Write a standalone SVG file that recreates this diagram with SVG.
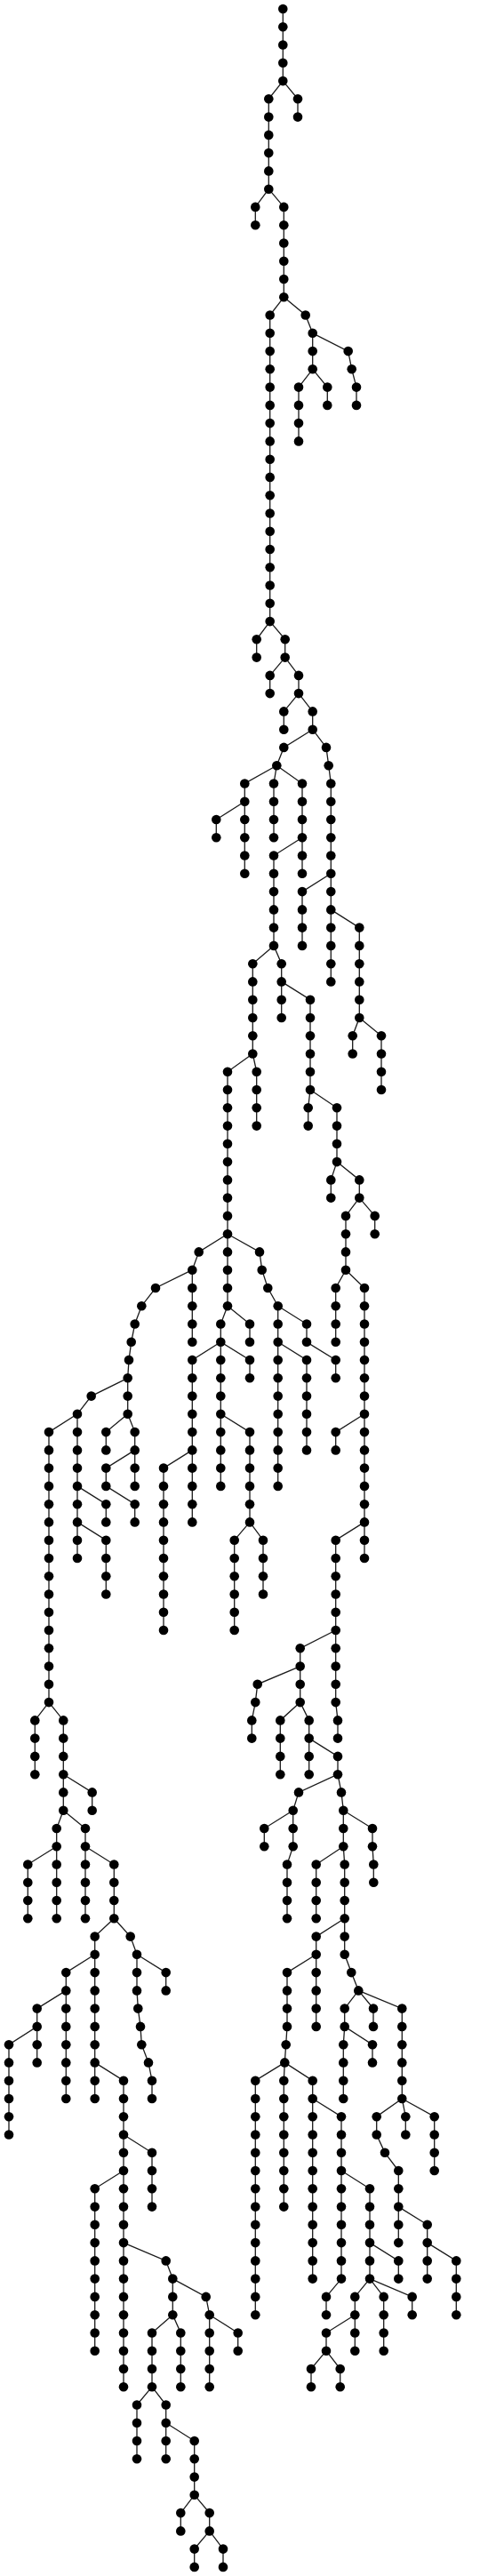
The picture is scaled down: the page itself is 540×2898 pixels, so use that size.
<svg xmlns="http://www.w3.org/2000/svg" width="540" height="2898" viewBox="0 0 540 2898">
<style>
.bg{fill:#fff}
#connectors path{fill:none;stroke:#1a1a1a;stroke-width:1.3}
#nodes circle{fill:#000}
</style>
<rect class="bg" x="0" y="0" width="540" height="2898"/>
<g id="connectors">
<path d="M318.3 10V91.1"/>
<path d="M318.3 91.1L302.3 111.3V212.7"/>
<path d="M318.3 91.1L335 111.3V131.6"/>
<path d="M302.3 212.7L287.3 232.9V253.2"/>
<path d="M302.3 212.7L319.3 232.9V334.3"/>
<path d="M319.3 334.3L303.7 354.5V699.1"/>
<path d="M319.3 334.3L343.7 354.5L351.7 374.8"/>
<path d="M351.7 374.8V415.3"/>
<path d="M351.7 374.8L391.7 395.1L395.7 415.3L401 435.6V455.9"/>
<path d="M351.7 415.3L336 435.6V496.4"/>
<path d="M351.7 415.3L368.3 435.6V455.9"/>
<path d="M303.7 699.1L288.7 719.3V739.6"/>
<path d="M303.7 699.1L320.7 719.3V739.6"/>
<path d="M320.7 739.6L303.7 759.9V780.1"/>
<path d="M320.7 739.6L336 759.9V780.1"/>
<path d="M336 780.1L319.3 800.4V820.7"/>
<path d="M336 780.1L351.7 800.4V820.7"/>
<path d="M351.7 820.7L319.3 840.9L311.3 861.2"/>
<path d="M351.7 820.7L367 840.9L369.7 861.2L372.3 881.5V982.8"/>
<path d="M311.3 861.2L275.3 881.5V901.7"/>
<path d="M311.3 861.2L308 881.5V942.3"/>
<path d="M311.3 861.2L340 881.5V942.3"/>
<path d="M275.3 901.7L243.3 922V942.3"/>
<path d="M275.3 901.7V982.8"/>
<path d="M340 942.3L308 962.5V1063.9"/>
<path d="M340 942.3V982.8"/>
<path d="M372.3 982.8L340 1003.1V1063.9"/>
<path d="M372.3 982.8V1023.4"/>
<path d="M372.3 1023.4V1104.4"/>
<path d="M372.3 1023.4L404.3 1043.6V1145"/>
<path d="M404.3 1145L396.7 1165.2V1185.5"/>
<path d="M404.3 1145L429 1165.2V1226"/>
<path d="M308 1063.9L284.3 1084.2V1185.5"/>
<path d="M308 1063.9L316.7 1084.2V1104.4"/>
<path d="M316.7 1104.4V1145"/>
<path d="M316.7 1104.4L349 1124.7V1226"/>
<path d="M284.3 1185.5L256 1205.8V1388.2"/>
<path d="M284.3 1185.5L288.7 1205.8V1266.6"/>
<path d="M349 1226L346.7 1246.3V1266.6"/>
<path d="M349 1226L379 1246.3V1307.1"/>
<path d="M379 1307.1L372.3 1327.4V1347.6"/>
<path d="M379 1307.1L404.3 1327.4V1347.6"/>
<path d="M404.3 1347.6L389 1367.9V1428.7"/>
<path d="M404.3 1347.6L421.7 1367.9V1388.2"/>
<path d="M389 1428.7L377.7 1449V1509.8"/>
<path d="M389 1428.7L410 1449V1590.8"/>
<path d="M256 1388.2L223.7 1408.4L216.3 1428.7"/>
<path d="M256 1388.2V1469.2"/>
<path d="M256 1388.2L292 1408.4L294.7 1428.7L301.3 1449L312.7 1469.2"/>
<path d="M216.3 1428.7L175 1449L159.3 1469.2L151.7 1489.5L147.7 1509.8L145 1530L143.7 1550.3"/>
<path d="M216.3 1428.7V1509.8"/>
<path d="M256 1469.2L248.3 1489.5V1509.8"/>
<path d="M256 1469.2L281 1489.5V1509.8"/>
<path d="M248.3 1509.8L216.3 1530V1631.4"/>
<path d="M248.3 1509.8V1590.8"/>
<path d="M248.3 1509.8L281 1530V1550.3"/>
<path d="M248.3 1590.8V1671.9"/>
<path d="M248.3 1590.8L281 1611.1V1712.4"/>
<path d="M216.3 1631.4L184 1651.6V1834"/>
<path d="M216.3 1631.4V1712.4"/>
<path d="M281 1712.4L263.7 1732.7V1834"/>
<path d="M281 1712.4L296 1732.7V1793.5"/>
<path d="M312.7 1469.2V1509.8"/>
<path d="M312.7 1469.2L345 1489.5V1509.8L377.7 1530V1550.3"/>
<path d="M312.7 1509.8V1671.9"/>
<path d="M312.7 1509.8L345 1530V1631.4"/>
<path d="M410 1590.8L377.7 1611.1V1631.4"/>
<path d="M410 1590.8V1712.4"/>
<path d="M410 1712.4L377.7 1732.7V1834"/>
<path d="M410 1712.4V1753"/>
<path d="M377.7 1834L337.7 1854.3V1874.6"/>
<path d="M377.7 1834V1915.1L380 1935.4V1955.6"/>
<path d="M337.7 1874.6L289.7 1894.8L287.3 1915.1L283.3 1935.4V1955.6"/>
<path d="M337.7 1874.6V1915.1"/>
<path d="M337.7 1915.1L315.3 1935.4V1996.2"/>
<path d="M337.7 1915.1L347.7 1935.4V1955.6"/>
<path d="M347.7 1955.6V1996.2"/>
<path d="M347.7 1955.6L380 1975.9V1996.2"/>
<path d="M380 1996.2L336 2016.4L329.7 2036.7"/>
<path d="M380 1996.2L384 2016.4L386.3 2036.7"/>
<path d="M329.7 2036.7L297.3 2057V2077.2"/>
<path d="M329.7 2036.7V2077.2L323 2097.5V2158.3"/>
<path d="M386.3 2036.7V2077.2"/>
<path d="M386.3 2036.7L419 2057V2077.2L420.3 2097.5V2117.8"/>
<path d="M386.3 2077.2L355.7 2097.5V2158.3"/>
<path d="M386.3 2077.2L387.7 2097.5V2158.3"/>
<path d="M387.7 2158.3L355.7 2178.6V2198.8"/>
<path d="M387.7 2158.3V2198.8L395.3 2219.1L403.3 2239.4"/>
<path d="M355.7 2198.8L323 2219.1V2279.9L321.7 2300.2L320.3 2320.4"/>
<path d="M355.7 2198.8V2279.9"/>
<path d="M403.3 2239.4L387.7 2259.6V2279.9"/>
<path d="M403.3 2239.4L420 2259.6V2279.9"/>
<path d="M403.3 2239.4L452.3 2259.6V2361"/>
<path d="M387.7 2279.9L386.3 2300.2V2361"/>
<path d="M387.7 2279.9L419 2300.2V2320.4"/>
<path d="M452.3 2361L423.7 2381.2V2401.5L433 2421.8L448.3 2442V2482.6"/>
<path d="M452.3 2361L456.3 2381.2V2401.5"/>
<path d="M452.3 2361L488.7 2381.2V2442"/>
<path d="M448.3 2482.6V2523.1"/>
<path d="M448.3 2482.6L480.7 2502.8V2523.1"/>
<path d="M480.7 2523.1V2563.6"/>
<path d="M480.7 2523.1L513.3 2543.4V2604.2"/>
<path d="M320.3 2320.4L287.3 2340.7V2604.2"/>
<path d="M320.3 2320.4L319.3 2340.7V2482.6"/>
<path d="M320.3 2320.4L351.7 2340.7V2361"/>
<path d="M351.7 2361V2563.6"/>
<path d="M351.7 2361L384 2381.2V2442"/>
<path d="M384 2442V2563.6L367 2583.9V2604.2"/>
<path d="M384 2442L416 2462.3V2523.1"/>
<path d="M416 2523.1V2563.6"/>
<path d="M416 2523.1L448.3 2543.4V2563.6"/>
<path d="M416 2563.6L399.3 2583.9V2604.2"/>
<path d="M416 2563.6L431.7 2583.9V2644.7"/>
<path d="M416 2563.6L463.7 2583.9V2604.2"/>
<path d="M399.3 2604.2L367 2624.5V2644.7"/>
<path d="M399.3 2604.2V2644.7"/>
<path d="M367 2644.7L350 2665V2685.2"/>
<path d="M367 2644.7L382.7 2665V2685.2"/>
<path d="M143.7 1550.3L102.7 1570.6L87 1590.8"/>
<path d="M143.7 1550.3V1590.8"/>
<path d="M87 1590.8L55 1611.1V1915.1"/>
<path d="M87 1590.8V1671.9"/>
<path d="M143.7 1590.8L119.3 1611.1V1631.4"/>
<path d="M143.7 1590.8L151.7 1611.1V1631.4"/>
<path d="M151.7 1631.4L119.3 1651.6V1671.9L151.7 1692.2V1712.4"/>
<path d="M151.7 1631.4V1671.9"/>
<path d="M87 1671.9V1712.4"/>
<path d="M87 1671.9L119.3 1692.2V1712.4"/>
<path d="M87 1712.4V1753"/>
<path d="M87 1712.4L119.3 1732.7V1793.5"/>
<path d="M55 1915.1L39.3 1935.4V1996.2"/>
<path d="M55 1915.1L71.3 1935.4V1996.2"/>
<path d="M71.3 1996.2V2036.7"/>
<path d="M71.3 1996.2L103.7 2016.4V2036.7"/>
<path d="M71.3 2036.7L63.7 2057V2077.2"/>
<path d="M71.3 2036.7L96 2057V2077.2"/>
<path d="M63.7 2077.2L31.3 2097.5V2158.3"/>
<path d="M63.7 2077.2V2158.3"/>
<path d="M96 2077.2V2158.3"/>
<path d="M96 2077.2L128.3 2097.5V2158.3"/>
<path d="M128.3 2158.3L106.7 2178.6V2198.8"/>
<path d="M128.3 2158.3L146.7 2178.6L154 2198.8"/>
<path d="M106.7 2198.8L74.3 2219.1V2239.4"/>
<path d="M106.7 2198.8V2320.4"/>
<path d="M74.3 2239.4L41.7 2259.6V2279.9"/>
<path d="M74.3 2239.4V2361"/>
<path d="M41.7 2279.9L10 2300.2V2401.5"/>
<path d="M41.7 2279.9V2320.4"/>
<path d="M106.7 2320.4V2361"/>
<path d="M106.7 2320.4L139 2340.7V2401.5"/>
<path d="M154 2198.8V2239.4L155.3 2259.6L158 2279.9L159.3 2300.2L167 2320.4L171 2340.7V2361"/>
<path d="M154 2198.8L186.7 2219.1V2239.4"/>
<path d="M139 2401.5V2442"/>
<path d="M139 2401.5L171 2421.8V2482.6"/>
<path d="M139 2442L106.7 2462.3V2644.7"/>
<path d="M139 2442V2523.1"/>
<path d="M139 2523.1V2685.2"/>
<path d="M139 2523.1L186.7 2543.4L194.3 2563.6"/>
<path d="M194.3 2563.6V2604.2"/>
<path d="M194.3 2563.6L231.7 2583.9L235.7 2604.2"/>
<path d="M194.3 2604.2L171 2624.5V2685.2"/>
<path d="M194.3 2604.2L203.3 2624.5V2685.2"/>
<path d="M235.7 2604.2V2685.2"/>
<path d="M235.7 2604.2L267.7 2624.5V2644.7"/>
<path d="M171 2685.2L154 2705.5V2766.3"/>
<path d="M171 2685.2L186.7 2705.5V2725.8"/>
<path d="M186.7 2725.8V2766.3"/>
<path d="M186.7 2725.8L218.7 2746V2806.8"/>
<path d="M218.7 2806.8L203.3 2827.1V2847.4"/>
<path d="M218.7 2806.8L235.7 2827.1V2847.4"/>
<path d="M235.7 2847.4L218.7 2867.6V2887.9"/>
<path d="M235.7 2847.4L251 2867.6V2887.9"/>
</g>
<g id="nodes">
<g id="n1_0"><circle cx="318.3" cy="10" r="5.3"/></g>
<g id="n1_1"><circle cx="318.3" cy="30.3" r="5.3"/></g>
<g id="n1_2"><circle cx="318.3" cy="50.5" r="5.3"/></g>
<g id="n1_3"><circle cx="318.3" cy="70.8" r="5.3"/></g>
<g id="n1_4"><circle cx="318.3" cy="91.1" r="5.3"/></g>
<g id="n2_0"><circle cx="302.3" cy="111.3" r="5.3"/></g>
<g id="n2_1"><circle cx="302.3" cy="131.6" r="5.3"/></g>
<g id="n2_2"><circle cx="302.3" cy="151.9" r="5.3"/></g>
<g id="n2_3"><circle cx="302.3" cy="172.1" r="5.3"/></g>
<g id="n2_4"><circle cx="302.3" cy="192.4" r="5.3"/></g>
<g id="n2_5"><circle cx="302.3" cy="212.7" r="5.3"/></g>
<g id="n3_0"><circle cx="335" cy="111.3" r="5.3"/></g>
<g id="n3_1"><circle cx="335" cy="131.6" r="5.3"/></g>
<g id="n4_0"><circle cx="287.3" cy="232.9" r="5.3"/></g>
<g id="n4_1"><circle cx="287.3" cy="253.2" r="5.3"/></g>
<g id="n5_0"><circle cx="319.3" cy="232.9" r="5.3"/></g>
<g id="n5_1"><circle cx="319.3" cy="253.2" r="5.3"/></g>
<g id="n5_2"><circle cx="319.3" cy="273.5" r="5.3"/></g>
<g id="n5_3"><circle cx="319.3" cy="293.7" r="5.3"/></g>
<g id="n5_4"><circle cx="319.3" cy="314" r="5.3"/></g>
<g id="n5_5"><circle cx="319.3" cy="334.3" r="5.3"/></g>
<g id="n6_0"><circle cx="303.7" cy="354.5" r="5.3"/></g>
<g id="n6_1"><circle cx="303.7" cy="374.8" r="5.3"/></g>
<g id="n6_2"><circle cx="303.7" cy="395.1" r="5.3"/></g>
<g id="n6_3"><circle cx="303.7" cy="415.3" r="5.3"/></g>
<g id="n6_4"><circle cx="303.7" cy="435.6" r="5.3"/></g>
<g id="n6_5"><circle cx="303.7" cy="455.9" r="5.3"/></g>
<g id="n6_6"><circle cx="303.7" cy="476.1" r="5.3"/></g>
<g id="n6_7"><circle cx="303.7" cy="496.4" r="5.3"/></g>
<g id="n6_8"><circle cx="303.7" cy="516.7" r="5.3"/></g>
<g id="n6_9"><circle cx="303.7" cy="536.9" r="5.3"/></g>
<g id="n6_10"><circle cx="303.7" cy="557.2" r="5.3"/></g>
<g id="n6_11"><circle cx="303.7" cy="577.5" r="5.3"/></g>
<g id="n6_12"><circle cx="303.7" cy="597.7" r="5.3"/></g>
<g id="n6_13"><circle cx="303.7" cy="618" r="5.3"/></g>
<g id="n6_14"><circle cx="303.7" cy="638.3" r="5.3"/></g>
<g id="n6_15"><circle cx="303.7" cy="658.5" r="5.3"/></g>
<g id="n6_16"><circle cx="303.7" cy="678.8" r="5.3"/></g>
<g id="n6_17"><circle cx="303.7" cy="699.1" r="5.3"/></g>
<g id="n7_0"><circle cx="343.7" cy="354.5" r="5.3"/></g>
<g id="n7_1"><circle cx="351.7" cy="374.8" r="5.3"/></g>
<g id="n8_0"><circle cx="351.7" cy="395.1" r="5.3"/></g>
<g id="n8_1"><circle cx="351.7" cy="415.3" r="5.3"/></g>
<g id="n9_0"><circle cx="391.7" cy="395.1" r="5.3"/></g>
<g id="n9_1"><circle cx="395.7" cy="415.3" r="5.3"/></g>
<g id="n9_2"><circle cx="401" cy="435.6" r="5.3"/></g>
<g id="n9_3"><circle cx="401" cy="455.9" r="5.3"/></g>
<g id="n10_0"><circle cx="336" cy="435.6" r="5.3"/></g>
<g id="n10_1"><circle cx="336" cy="455.9" r="5.3"/></g>
<g id="n10_2"><circle cx="336" cy="476.1" r="5.3"/></g>
<g id="n10_3"><circle cx="336" cy="496.4" r="5.3"/></g>
<g id="n11_0"><circle cx="368.3" cy="435.6" r="5.3"/></g>
<g id="n11_1"><circle cx="368.3" cy="455.9" r="5.3"/></g>
<g id="n12_0"><circle cx="288.7" cy="719.3" r="5.3"/></g>
<g id="n12_1"><circle cx="288.7" cy="739.6" r="5.3"/></g>
<g id="n13_0"><circle cx="320.7" cy="719.3" r="5.3"/></g>
<g id="n13_1"><circle cx="320.7" cy="739.6" r="5.3"/></g>
<g id="n14_0"><circle cx="303.7" cy="759.9" r="5.3"/></g>
<g id="n14_1"><circle cx="303.7" cy="780.1" r="5.3"/></g>
<g id="n15_0"><circle cx="336" cy="759.9" r="5.3"/></g>
<g id="n15_1"><circle cx="336" cy="780.1" r="5.3"/></g>
<g id="n16_0"><circle cx="319.3" cy="800.4" r="5.3"/></g>
<g id="n16_1"><circle cx="319.3" cy="820.7" r="5.3"/></g>
<g id="n17_0"><circle cx="351.7" cy="800.4" r="5.3"/></g>
<g id="n17_1"><circle cx="351.7" cy="820.7" r="5.3"/></g>
<g id="n18_0"><circle cx="319.3" cy="840.9" r="5.3"/></g>
<g id="n18_1"><circle cx="311.3" cy="861.2" r="5.3"/></g>
<g id="n19_0"><circle cx="367" cy="840.9" r="5.3"/></g>
<g id="n19_1"><circle cx="369.7" cy="861.2" r="5.3"/></g>
<g id="n19_2"><circle cx="372.3" cy="881.5" r="5.3"/></g>
<g id="n19_3"><circle cx="372.3" cy="901.7" r="5.3"/></g>
<g id="n19_4"><circle cx="372.3" cy="922" r="5.3"/></g>
<g id="n19_5"><circle cx="372.3" cy="942.3" r="5.3"/></g>
<g id="n19_6"><circle cx="372.3" cy="962.5" r="5.3"/></g>
<g id="n19_7"><circle cx="372.3" cy="982.8" r="5.3"/></g>
<g id="n20_0"><circle cx="275.3" cy="881.5" r="5.3"/></g>
<g id="n20_1"><circle cx="275.3" cy="901.7" r="5.3"/></g>
<g id="n21_0"><circle cx="308" cy="881.5" r="5.3"/></g>
<g id="n21_1"><circle cx="308" cy="901.7" r="5.3"/></g>
<g id="n21_2"><circle cx="308" cy="922" r="5.3"/></g>
<g id="n21_3"><circle cx="308" cy="942.3" r="5.3"/></g>
<g id="n22_0"><circle cx="340" cy="881.5" r="5.3"/></g>
<g id="n22_1"><circle cx="340" cy="901.7" r="5.3"/></g>
<g id="n22_2"><circle cx="340" cy="922" r="5.3"/></g>
<g id="n22_3"><circle cx="340" cy="942.3" r="5.3"/></g>
<g id="n23_0"><circle cx="243.3" cy="922" r="5.3"/></g>
<g id="n23_1"><circle cx="243.3" cy="942.3" r="5.3"/></g>
<g id="n24_0"><circle cx="275.3" cy="922" r="5.3"/></g>
<g id="n24_1"><circle cx="275.3" cy="942.3" r="5.3"/></g>
<g id="n24_2"><circle cx="275.3" cy="962.5" r="5.3"/></g>
<g id="n24_3"><circle cx="275.3" cy="982.8" r="5.3"/></g>
<g id="n25_0"><circle cx="308" cy="962.5" r="5.3"/></g>
<g id="n25_1"><circle cx="308" cy="982.8" r="5.3"/></g>
<g id="n25_2"><circle cx="308" cy="1003.1" r="5.3"/></g>
<g id="n25_3"><circle cx="308" cy="1023.4" r="5.3"/></g>
<g id="n25_4"><circle cx="308" cy="1043.6" r="5.3"/></g>
<g id="n25_5"><circle cx="308" cy="1063.9" r="5.3"/></g>
<g id="n26_0"><circle cx="340" cy="962.5" r="5.3"/></g>
<g id="n26_1"><circle cx="340" cy="982.8" r="5.3"/></g>
<g id="n27_0"><circle cx="340" cy="1003.1" r="5.3"/></g>
<g id="n27_1"><circle cx="340" cy="1023.4" r="5.3"/></g>
<g id="n27_2"><circle cx="340" cy="1043.6" r="5.3"/></g>
<g id="n27_3"><circle cx="340" cy="1063.9" r="5.3"/></g>
<g id="n28_0"><circle cx="372.3" cy="1003.1" r="5.3"/></g>
<g id="n28_1"><circle cx="372.3" cy="1023.4" r="5.3"/></g>
<g id="n29_0"><circle cx="372.3" cy="1043.6" r="5.3"/></g>
<g id="n29_1"><circle cx="372.3" cy="1063.9" r="5.3"/></g>
<g id="n29_2"><circle cx="372.3" cy="1084.2" r="5.3"/></g>
<g id="n29_3"><circle cx="372.3" cy="1104.4" r="5.3"/></g>
<g id="n30_0"><circle cx="404.3" cy="1043.6" r="5.3"/></g>
<g id="n30_1"><circle cx="404.3" cy="1063.9" r="5.3"/></g>
<g id="n30_2"><circle cx="404.3" cy="1084.2" r="5.3"/></g>
<g id="n30_3"><circle cx="404.3" cy="1104.4" r="5.3"/></g>
<g id="n30_4"><circle cx="404.3" cy="1124.7" r="5.3"/></g>
<g id="n30_5"><circle cx="404.3" cy="1145" r="5.3"/></g>
<g id="n31_0"><circle cx="396.7" cy="1165.2" r="5.3"/></g>
<g id="n31_1"><circle cx="396.7" cy="1185.5" r="5.3"/></g>
<g id="n32_0"><circle cx="429" cy="1165.2" r="5.3"/></g>
<g id="n32_1"><circle cx="429" cy="1185.5" r="5.3"/></g>
<g id="n32_2"><circle cx="429" cy="1205.8" r="5.3"/></g>
<g id="n32_3"><circle cx="429" cy="1226" r="5.3"/></g>
<g id="n33_0"><circle cx="284.3" cy="1084.2" r="5.3"/></g>
<g id="n33_1"><circle cx="284.3" cy="1104.4" r="5.3"/></g>
<g id="n33_2"><circle cx="284.3" cy="1124.7" r="5.3"/></g>
<g id="n33_3"><circle cx="284.3" cy="1145" r="5.3"/></g>
<g id="n33_4"><circle cx="284.3" cy="1165.2" r="5.3"/></g>
<g id="n33_5"><circle cx="284.3" cy="1185.5" r="5.3"/></g>
<g id="n34_0"><circle cx="316.7" cy="1084.2" r="5.3"/></g>
<g id="n34_1"><circle cx="316.7" cy="1104.4" r="5.3"/></g>
<g id="n35_0"><circle cx="316.7" cy="1124.7" r="5.3"/></g>
<g id="n35_1"><circle cx="316.7" cy="1145" r="5.3"/></g>
<g id="n36_0"><circle cx="349" cy="1124.7" r="5.3"/></g>
<g id="n36_1"><circle cx="349" cy="1145" r="5.3"/></g>
<g id="n36_2"><circle cx="349" cy="1165.2" r="5.3"/></g>
<g id="n36_3"><circle cx="349" cy="1185.5" r="5.3"/></g>
<g id="n36_4"><circle cx="349" cy="1205.8" r="5.3"/></g>
<g id="n36_5"><circle cx="349" cy="1226" r="5.3"/></g>
<g id="n37_0"><circle cx="256" cy="1205.8" r="5.3"/></g>
<g id="n37_1"><circle cx="256" cy="1226" r="5.3"/></g>
<g id="n37_2"><circle cx="256" cy="1246.3" r="5.3"/></g>
<g id="n37_3"><circle cx="256" cy="1266.6" r="5.3"/></g>
<g id="n37_4"><circle cx="256" cy="1286.8" r="5.3"/></g>
<g id="n37_5"><circle cx="256" cy="1307.1" r="5.3"/></g>
<g id="n37_6"><circle cx="256" cy="1327.4" r="5.3"/></g>
<g id="n37_7"><circle cx="256" cy="1347.6" r="5.3"/></g>
<g id="n37_8"><circle cx="256" cy="1367.9" r="5.3"/></g>
<g id="n37_9"><circle cx="256" cy="1388.2" r="5.3"/></g>
<g id="n38_0"><circle cx="288.7" cy="1205.8" r="5.3"/></g>
<g id="n38_1"><circle cx="288.7" cy="1226" r="5.3"/></g>
<g id="n38_2"><circle cx="288.7" cy="1246.3" r="5.3"/></g>
<g id="n38_3"><circle cx="288.7" cy="1266.6" r="5.3"/></g>
<g id="n39_0"><circle cx="346.7" cy="1246.3" r="5.3"/></g>
<g id="n39_1"><circle cx="346.7" cy="1266.6" r="5.3"/></g>
<g id="n40_0"><circle cx="379" cy="1246.3" r="5.3"/></g>
<g id="n40_1"><circle cx="379" cy="1266.6" r="5.3"/></g>
<g id="n40_2"><circle cx="379" cy="1286.8" r="5.3"/></g>
<g id="n40_3"><circle cx="379" cy="1307.1" r="5.3"/></g>
<g id="n41_0"><circle cx="372.3" cy="1327.4" r="5.3"/></g>
<g id="n41_1"><circle cx="372.3" cy="1347.6" r="5.3"/></g>
<g id="n42_0"><circle cx="404.3" cy="1327.4" r="5.3"/></g>
<g id="n42_1"><circle cx="404.3" cy="1347.6" r="5.3"/></g>
<g id="n43_0"><circle cx="389" cy="1367.9" r="5.3"/></g>
<g id="n43_1"><circle cx="389" cy="1388.2" r="5.3"/></g>
<g id="n43_2"><circle cx="389" cy="1408.4" r="5.3"/></g>
<g id="n43_3"><circle cx="389" cy="1428.7" r="5.3"/></g>
<g id="n44_0"><circle cx="421.7" cy="1367.9" r="5.3"/></g>
<g id="n44_1"><circle cx="421.7" cy="1388.2" r="5.3"/></g>
<g id="n45_0"><circle cx="377.7" cy="1449" r="5.3"/></g>
<g id="n45_1"><circle cx="377.7" cy="1469.2" r="5.3"/></g>
<g id="n45_2"><circle cx="377.7" cy="1489.5" r="5.3"/></g>
<g id="n45_3"><circle cx="377.7" cy="1509.8" r="5.3"/></g>
<g id="n46_0"><circle cx="410" cy="1449" r="5.3"/></g>
<g id="n46_1"><circle cx="410" cy="1469.2" r="5.3"/></g>
<g id="n46_2"><circle cx="410" cy="1489.5" r="5.3"/></g>
<g id="n46_3"><circle cx="410" cy="1509.8" r="5.3"/></g>
<g id="n46_4"><circle cx="410" cy="1530" r="5.3"/></g>
<g id="n46_5"><circle cx="410" cy="1550.3" r="5.3"/></g>
<g id="n46_6"><circle cx="410" cy="1570.6" r="5.3"/></g>
<g id="n46_7"><circle cx="410" cy="1590.8" r="5.3"/></g>
<g id="n47_0"><circle cx="223.7" cy="1408.4" r="5.3"/></g>
<g id="n47_1"><circle cx="216.3" cy="1428.7" r="5.3"/></g>
<g id="n48_0"><circle cx="256" cy="1408.4" r="5.3"/></g>
<g id="n48_1"><circle cx="256" cy="1428.7" r="5.3"/></g>
<g id="n48_2"><circle cx="256" cy="1449" r="5.3"/></g>
<g id="n48_3"><circle cx="256" cy="1469.2" r="5.3"/></g>
<g id="n49_0"><circle cx="292" cy="1408.4" r="5.3"/></g>
<g id="n49_1"><circle cx="294.7" cy="1428.7" r="5.3"/></g>
<g id="n49_2"><circle cx="301.3" cy="1449" r="5.3"/></g>
<g id="n49_3"><circle cx="312.7" cy="1469.2" r="5.3"/></g>
<g id="n50_0"><circle cx="175" cy="1449" r="5.3"/></g>
<g id="n50_1"><circle cx="159.3" cy="1469.2" r="5.3"/></g>
<g id="n50_2"><circle cx="151.7" cy="1489.5" r="5.3"/></g>
<g id="n50_3"><circle cx="147.7" cy="1509.8" r="5.3"/></g>
<g id="n50_4"><circle cx="145" cy="1530" r="5.3"/></g>
<g id="n50_5"><circle cx="143.7" cy="1550.3" r="5.3"/></g>
<g id="n51_0"><circle cx="216.3" cy="1449" r="5.3"/></g>
<g id="n51_1"><circle cx="216.3" cy="1469.2" r="5.3"/></g>
<g id="n51_2"><circle cx="216.3" cy="1489.5" r="5.3"/></g>
<g id="n51_3"><circle cx="216.3" cy="1509.8" r="5.3"/></g>
<g id="n52_0"><circle cx="248.3" cy="1489.5" r="5.3"/></g>
<g id="n52_1"><circle cx="248.3" cy="1509.8" r="5.3"/></g>
<g id="n53_0"><circle cx="281" cy="1489.5" r="5.3"/></g>
<g id="n53_1"><circle cx="281" cy="1509.8" r="5.3"/></g>
<g id="n54_0"><circle cx="216.3" cy="1530" r="5.3"/></g>
<g id="n54_1"><circle cx="216.3" cy="1550.3" r="5.3"/></g>
<g id="n54_2"><circle cx="216.3" cy="1570.6" r="5.3"/></g>
<g id="n54_3"><circle cx="216.3" cy="1590.8" r="5.3"/></g>
<g id="n54_4"><circle cx="216.3" cy="1611.1" r="5.3"/></g>
<g id="n54_5"><circle cx="216.3" cy="1631.4" r="5.3"/></g>
<g id="n55_0"><circle cx="248.3" cy="1530" r="5.3"/></g>
<g id="n55_1"><circle cx="248.3" cy="1550.3" r="5.3"/></g>
<g id="n55_2"><circle cx="248.3" cy="1570.6" r="5.3"/></g>
<g id="n55_3"><circle cx="248.3" cy="1590.8" r="5.3"/></g>
<g id="n56_0"><circle cx="281" cy="1530" r="5.3"/></g>
<g id="n56_1"><circle cx="281" cy="1550.3" r="5.3"/></g>
<g id="n57_0"><circle cx="248.3" cy="1611.1" r="5.3"/></g>
<g id="n57_1"><circle cx="248.3" cy="1631.4" r="5.3"/></g>
<g id="n57_2"><circle cx="248.3" cy="1651.6" r="5.3"/></g>
<g id="n57_3"><circle cx="248.3" cy="1671.9" r="5.3"/></g>
<g id="n58_0"><circle cx="281" cy="1611.1" r="5.3"/></g>
<g id="n58_1"><circle cx="281" cy="1631.4" r="5.3"/></g>
<g id="n58_2"><circle cx="281" cy="1651.6" r="5.3"/></g>
<g id="n58_3"><circle cx="281" cy="1671.9" r="5.3"/></g>
<g id="n58_4"><circle cx="281" cy="1692.2" r="5.3"/></g>
<g id="n58_5"><circle cx="281" cy="1712.4" r="5.3"/></g>
<g id="n59_0"><circle cx="184" cy="1651.6" r="5.3"/></g>
<g id="n59_1"><circle cx="184" cy="1671.9" r="5.3"/></g>
<g id="n59_2"><circle cx="184" cy="1692.2" r="5.3"/></g>
<g id="n59_3"><circle cx="184" cy="1712.4" r="5.3"/></g>
<g id="n59_4"><circle cx="184" cy="1732.7" r="5.3"/></g>
<g id="n59_5"><circle cx="184" cy="1753" r="5.3"/></g>
<g id="n59_6"><circle cx="184" cy="1773.2" r="5.3"/></g>
<g id="n59_7"><circle cx="184" cy="1793.5" r="5.3"/></g>
<g id="n59_8"><circle cx="184" cy="1813.8" r="5.3"/></g>
<g id="n59_9"><circle cx="184" cy="1834" r="5.3"/></g>
<g id="n60_0"><circle cx="216.3" cy="1651.6" r="5.3"/></g>
<g id="n60_1"><circle cx="216.3" cy="1671.9" r="5.3"/></g>
<g id="n60_2"><circle cx="216.3" cy="1692.2" r="5.3"/></g>
<g id="n60_3"><circle cx="216.3" cy="1712.4" r="5.3"/></g>
<g id="n61_0"><circle cx="263.7" cy="1732.7" r="5.3"/></g>
<g id="n61_1"><circle cx="263.7" cy="1753" r="5.3"/></g>
<g id="n61_2"><circle cx="263.7" cy="1773.2" r="5.3"/></g>
<g id="n61_3"><circle cx="263.7" cy="1793.5" r="5.3"/></g>
<g id="n61_4"><circle cx="263.7" cy="1813.8" r="5.3"/></g>
<g id="n61_5"><circle cx="263.7" cy="1834" r="5.3"/></g>
<g id="n62_0"><circle cx="296" cy="1732.7" r="5.3"/></g>
<g id="n62_1"><circle cx="296" cy="1753" r="5.3"/></g>
<g id="n62_2"><circle cx="296" cy="1773.2" r="5.3"/></g>
<g id="n62_3"><circle cx="296" cy="1793.5" r="5.3"/></g>
<g id="n63_0"><circle cx="312.7" cy="1489.5" r="5.3"/></g>
<g id="n63_1"><circle cx="312.7" cy="1509.8" r="5.3"/></g>
<g id="n64_0"><circle cx="345" cy="1489.5" r="5.3"/></g>
<g id="n64_1"><circle cx="345" cy="1509.8" r="5.3"/></g>
<g id="n64_2"><circle cx="377.7" cy="1530" r="5.3"/></g>
<g id="n64_3"><circle cx="377.7" cy="1550.3" r="5.3"/></g>
<g id="n65_0"><circle cx="312.7" cy="1530" r="5.3"/></g>
<g id="n65_1"><circle cx="312.7" cy="1550.3" r="5.3"/></g>
<g id="n65_2"><circle cx="312.7" cy="1570.6" r="5.3"/></g>
<g id="n65_3"><circle cx="312.7" cy="1590.8" r="5.3"/></g>
<g id="n65_4"><circle cx="312.7" cy="1611.1" r="5.3"/></g>
<g id="n65_5"><circle cx="312.7" cy="1631.4" r="5.3"/></g>
<g id="n65_6"><circle cx="312.7" cy="1651.6" r="5.3"/></g>
<g id="n65_7"><circle cx="312.7" cy="1671.9" r="5.3"/></g>
<g id="n66_0"><circle cx="345" cy="1530" r="5.3"/></g>
<g id="n66_1"><circle cx="345" cy="1550.3" r="5.3"/></g>
<g id="n66_2"><circle cx="345" cy="1570.6" r="5.3"/></g>
<g id="n66_3"><circle cx="345" cy="1590.8" r="5.3"/></g>
<g id="n66_4"><circle cx="345" cy="1611.1" r="5.3"/></g>
<g id="n66_5"><circle cx="345" cy="1631.4" r="5.3"/></g>
<g id="n67_0"><circle cx="377.7" cy="1611.1" r="5.3"/></g>
<g id="n67_1"><circle cx="377.7" cy="1631.4" r="5.3"/></g>
<g id="n68_0"><circle cx="410" cy="1611.1" r="5.3"/></g>
<g id="n68_1"><circle cx="410" cy="1631.4" r="5.3"/></g>
<g id="n68_2"><circle cx="410" cy="1651.6" r="5.3"/></g>
<g id="n68_3"><circle cx="410" cy="1671.9" r="5.3"/></g>
<g id="n68_4"><circle cx="410" cy="1692.2" r="5.3"/></g>
<g id="n68_5"><circle cx="410" cy="1712.4" r="5.3"/></g>
<g id="n69_0"><circle cx="377.7" cy="1732.7" r="5.3"/></g>
<g id="n69_1"><circle cx="377.7" cy="1753" r="5.3"/></g>
<g id="n69_2"><circle cx="377.7" cy="1773.2" r="5.3"/></g>
<g id="n69_3"><circle cx="377.7" cy="1793.5" r="5.3"/></g>
<g id="n69_4"><circle cx="377.7" cy="1813.8" r="5.3"/></g>
<g id="n69_5"><circle cx="377.7" cy="1834" r="5.3"/></g>
<g id="n70_0"><circle cx="410" cy="1732.7" r="5.3"/></g>
<g id="n70_1"><circle cx="410" cy="1753" r="5.3"/></g>
<g id="n71_0"><circle cx="337.7" cy="1854.3" r="5.3"/></g>
<g id="n71_1"><circle cx="337.7" cy="1874.6" r="5.3"/></g>
<g id="n72_0"><circle cx="377.7" cy="1854.3" r="5.3"/></g>
<g id="n72_1"><circle cx="377.7" cy="1874.6" r="5.3"/></g>
<g id="n72_2"><circle cx="377.7" cy="1894.8" r="5.3"/></g>
<g id="n72_3"><circle cx="377.7" cy="1915.1" r="5.3"/></g>
<g id="n72_4"><circle cx="380" cy="1935.4" r="5.3"/></g>
<g id="n72_5"><circle cx="380" cy="1955.6" r="5.3"/></g>
<g id="n73_0"><circle cx="289.7" cy="1894.8" r="5.3"/></g>
<g id="n73_1"><circle cx="287.3" cy="1915.1" r="5.3"/></g>
<g id="n73_2"><circle cx="283.3" cy="1935.4" r="5.3"/></g>
<g id="n73_3"><circle cx="283.3" cy="1955.6" r="5.3"/></g>
<g id="n74_0"><circle cx="337.7" cy="1894.8" r="5.3"/></g>
<g id="n74_1"><circle cx="337.7" cy="1915.1" r="5.3"/></g>
<g id="n75_0"><circle cx="315.3" cy="1935.4" r="5.3"/></g>
<g id="n75_1"><circle cx="315.3" cy="1955.6" r="5.3"/></g>
<g id="n75_2"><circle cx="315.3" cy="1975.9" r="5.3"/></g>
<g id="n75_3"><circle cx="315.3" cy="1996.2" r="5.3"/></g>
<g id="n76_0"><circle cx="347.7" cy="1935.4" r="5.3"/></g>
<g id="n76_1"><circle cx="347.7" cy="1955.6" r="5.3"/></g>
<g id="n77_0"><circle cx="347.7" cy="1975.9" r="5.3"/></g>
<g id="n77_1"><circle cx="347.7" cy="1996.2" r="5.3"/></g>
<g id="n78_0"><circle cx="380" cy="1975.9" r="5.3"/></g>
<g id="n78_1"><circle cx="380" cy="1996.2" r="5.3"/></g>
<g id="n79_0"><circle cx="336" cy="2016.4" r="5.3"/></g>
<g id="n79_1"><circle cx="329.7" cy="2036.7" r="5.3"/></g>
<g id="n80_0"><circle cx="384" cy="2016.4" r="5.3"/></g>
<g id="n80_1"><circle cx="386.3" cy="2036.7" r="5.3"/></g>
<g id="n81_0"><circle cx="297.3" cy="2057" r="5.3"/></g>
<g id="n81_1"><circle cx="297.3" cy="2077.2" r="5.3"/></g>
<g id="n82_0"><circle cx="329.7" cy="2057" r="5.3"/></g>
<g id="n82_1"><circle cx="329.7" cy="2077.2" r="5.3"/></g>
<g id="n82_2"><circle cx="323" cy="2097.5" r="5.3"/></g>
<g id="n82_3"><circle cx="323" cy="2117.8" r="5.3"/></g>
<g id="n82_4"><circle cx="323" cy="2138" r="5.3"/></g>
<g id="n82_5"><circle cx="323" cy="2158.3" r="5.3"/></g>
<g id="n83_0"><circle cx="386.3" cy="2057" r="5.3"/></g>
<g id="n83_1"><circle cx="386.3" cy="2077.2" r="5.3"/></g>
<g id="n84_0"><circle cx="419" cy="2057" r="5.3"/></g>
<g id="n84_1"><circle cx="419" cy="2077.2" r="5.3"/></g>
<g id="n84_2"><circle cx="420.3" cy="2097.5" r="5.3"/></g>
<g id="n84_3"><circle cx="420.3" cy="2117.8" r="5.3"/></g>
<g id="n85_0"><circle cx="355.7" cy="2097.5" r="5.3"/></g>
<g id="n85_1"><circle cx="355.7" cy="2117.8" r="5.3"/></g>
<g id="n85_2"><circle cx="355.7" cy="2138" r="5.3"/></g>
<g id="n85_3"><circle cx="355.7" cy="2158.3" r="5.3"/></g>
<g id="n86_0"><circle cx="387.7" cy="2097.5" r="5.3"/></g>
<g id="n86_1"><circle cx="387.7" cy="2117.8" r="5.3"/></g>
<g id="n86_2"><circle cx="387.7" cy="2138" r="5.3"/></g>
<g id="n86_3"><circle cx="387.7" cy="2158.3" r="5.3"/></g>
<g id="n87_0"><circle cx="355.7" cy="2178.6" r="5.3"/></g>
<g id="n87_1"><circle cx="355.7" cy="2198.8" r="5.3"/></g>
<g id="n88_0"><circle cx="387.7" cy="2178.6" r="5.3"/></g>
<g id="n88_1"><circle cx="387.7" cy="2198.8" r="5.3"/></g>
<g id="n88_2"><circle cx="395.3" cy="2219.1" r="5.3"/></g>
<g id="n88_3"><circle cx="403.3" cy="2239.4" r="5.3"/></g>
<g id="n89_0"><circle cx="323" cy="2219.1" r="5.3"/></g>
<g id="n89_1"><circle cx="323" cy="2239.4" r="5.3"/></g>
<g id="n89_2"><circle cx="323" cy="2259.6" r="5.3"/></g>
<g id="n89_3"><circle cx="323" cy="2279.9" r="5.3"/></g>
<g id="n89_4"><circle cx="321.7" cy="2300.2" r="5.3"/></g>
<g id="n89_5"><circle cx="320.3" cy="2320.4" r="5.3"/></g>
<g id="n90_0"><circle cx="355.7" cy="2219.1" r="5.3"/></g>
<g id="n90_1"><circle cx="355.7" cy="2239.4" r="5.3"/></g>
<g id="n90_2"><circle cx="355.7" cy="2259.6" r="5.3"/></g>
<g id="n90_3"><circle cx="355.7" cy="2279.9" r="5.3"/></g>
<g id="n91_0"><circle cx="387.7" cy="2259.6" r="5.3"/></g>
<g id="n91_1"><circle cx="387.7" cy="2279.9" r="5.3"/></g>
<g id="n92_0"><circle cx="420" cy="2259.6" r="5.3"/></g>
<g id="n92_1"><circle cx="420" cy="2279.9" r="5.3"/></g>
<g id="n93_0"><circle cx="452.3" cy="2259.6" r="5.3"/></g>
<g id="n93_1"><circle cx="452.3" cy="2279.9" r="5.3"/></g>
<g id="n93_2"><circle cx="452.3" cy="2300.2" r="5.3"/></g>
<g id="n93_3"><circle cx="452.3" cy="2320.4" r="5.3"/></g>
<g id="n93_4"><circle cx="452.3" cy="2340.7" r="5.3"/></g>
<g id="n93_5"><circle cx="452.3" cy="2361" r="5.3"/></g>
<g id="n94_0"><circle cx="386.3" cy="2300.2" r="5.3"/></g>
<g id="n94_1"><circle cx="386.3" cy="2320.4" r="5.3"/></g>
<g id="n94_2"><circle cx="386.3" cy="2340.7" r="5.3"/></g>
<g id="n94_3"><circle cx="386.3" cy="2361" r="5.3"/></g>
<g id="n95_0"><circle cx="419" cy="2300.2" r="5.3"/></g>
<g id="n95_1"><circle cx="419" cy="2320.4" r="5.3"/></g>
<g id="n96_0"><circle cx="423.7" cy="2381.2" r="5.3"/></g>
<g id="n96_1"><circle cx="423.7" cy="2401.5" r="5.3"/></g>
<g id="n96_2"><circle cx="433" cy="2421.8" r="5.3"/></g>
<g id="n96_3"><circle cx="448.3" cy="2442" r="5.3"/></g>
<g id="n96_4"><circle cx="448.3" cy="2462.3" r="5.3"/></g>
<g id="n96_5"><circle cx="448.3" cy="2482.6" r="5.3"/></g>
<g id="n97_0"><circle cx="456.3" cy="2381.2" r="5.3"/></g>
<g id="n97_1"><circle cx="456.3" cy="2401.5" r="5.3"/></g>
<g id="n98_0"><circle cx="488.7" cy="2381.2" r="5.3"/></g>
<g id="n98_1"><circle cx="488.7" cy="2401.5" r="5.3"/></g>
<g id="n98_2"><circle cx="488.7" cy="2421.8" r="5.3"/></g>
<g id="n98_3"><circle cx="488.7" cy="2442" r="5.3"/></g>
<g id="n99_0"><circle cx="448.3" cy="2502.8" r="5.3"/></g>
<g id="n99_1"><circle cx="448.3" cy="2523.1" r="5.3"/></g>
<g id="n100_0"><circle cx="480.7" cy="2502.8" r="5.3"/></g>
<g id="n100_1"><circle cx="480.7" cy="2523.1" r="5.3"/></g>
<g id="n101_0"><circle cx="480.7" cy="2543.4" r="5.3"/></g>
<g id="n101_1"><circle cx="480.7" cy="2563.6" r="5.3"/></g>
<g id="n102_0"><circle cx="513.3" cy="2543.4" r="5.3"/></g>
<g id="n102_1"><circle cx="513.3" cy="2563.6" r="5.3"/></g>
<g id="n102_2"><circle cx="513.3" cy="2583.9" r="5.3"/></g>
<g id="n102_3"><circle cx="513.3" cy="2604.2" r="5.3"/></g>
<g id="n103_0"><circle cx="287.3" cy="2340.7" r="5.3"/></g>
<g id="n103_1"><circle cx="287.3" cy="2361" r="5.3"/></g>
<g id="n103_2"><circle cx="287.3" cy="2381.2" r="5.3"/></g>
<g id="n103_3"><circle cx="287.3" cy="2401.5" r="5.3"/></g>
<g id="n103_4"><circle cx="287.3" cy="2421.8" r="5.3"/></g>
<g id="n103_5"><circle cx="287.3" cy="2442" r="5.3"/></g>
<g id="n103_6"><circle cx="287.3" cy="2462.3" r="5.3"/></g>
<g id="n103_7"><circle cx="287.3" cy="2482.6" r="5.3"/></g>
<g id="n103_8"><circle cx="287.3" cy="2502.8" r="5.3"/></g>
<g id="n103_9"><circle cx="287.3" cy="2523.1" r="5.3"/></g>
<g id="n103_10"><circle cx="287.3" cy="2543.4" r="5.3"/></g>
<g id="n103_11"><circle cx="287.3" cy="2563.6" r="5.3"/></g>
<g id="n103_12"><circle cx="287.3" cy="2583.9" r="5.3"/></g>
<g id="n103_13"><circle cx="287.3" cy="2604.2" r="5.3"/></g>
<g id="n104_0"><circle cx="319.3" cy="2340.7" r="5.3"/></g>
<g id="n104_1"><circle cx="319.3" cy="2361" r="5.3"/></g>
<g id="n104_2"><circle cx="319.3" cy="2381.2" r="5.3"/></g>
<g id="n104_3"><circle cx="319.3" cy="2401.5" r="5.3"/></g>
<g id="n104_4"><circle cx="319.3" cy="2421.8" r="5.3"/></g>
<g id="n104_5"><circle cx="319.3" cy="2442" r="5.3"/></g>
<g id="n104_6"><circle cx="319.3" cy="2462.3" r="5.3"/></g>
<g id="n104_7"><circle cx="319.3" cy="2482.6" r="5.3"/></g>
<g id="n105_0"><circle cx="351.7" cy="2340.7" r="5.3"/></g>
<g id="n105_1"><circle cx="351.7" cy="2361" r="5.3"/></g>
<g id="n106_0"><circle cx="351.7" cy="2381.2" r="5.3"/></g>
<g id="n106_1"><circle cx="351.7" cy="2401.5" r="5.3"/></g>
<g id="n106_2"><circle cx="351.7" cy="2421.8" r="5.3"/></g>
<g id="n106_3"><circle cx="351.7" cy="2442" r="5.3"/></g>
<g id="n106_4"><circle cx="351.7" cy="2462.3" r="5.3"/></g>
<g id="n106_5"><circle cx="351.7" cy="2482.6" r="5.3"/></g>
<g id="n106_6"><circle cx="351.7" cy="2502.8" r="5.3"/></g>
<g id="n106_7"><circle cx="351.7" cy="2523.1" r="5.3"/></g>
<g id="n106_8"><circle cx="351.7" cy="2543.4" r="5.3"/></g>
<g id="n106_9"><circle cx="351.7" cy="2563.6" r="5.3"/></g>
<g id="n107_0"><circle cx="384" cy="2381.2" r="5.3"/></g>
<g id="n107_1"><circle cx="384" cy="2401.5" r="5.3"/></g>
<g id="n107_2"><circle cx="384" cy="2421.8" r="5.3"/></g>
<g id="n107_3"><circle cx="384" cy="2442" r="5.3"/></g>
<g id="n108_0"><circle cx="384" cy="2462.3" r="5.3"/></g>
<g id="n108_1"><circle cx="384" cy="2482.6" r="5.3"/></g>
<g id="n108_2"><circle cx="384" cy="2502.8" r="5.3"/></g>
<g id="n108_3"><circle cx="384" cy="2523.1" r="5.3"/></g>
<g id="n108_4"><circle cx="384" cy="2543.4" r="5.3"/></g>
<g id="n108_5"><circle cx="384" cy="2563.6" r="5.3"/></g>
<g id="n108_6"><circle cx="367" cy="2583.9" r="5.3"/></g>
<g id="n108_7"><circle cx="367" cy="2604.2" r="5.3"/></g>
<g id="n109_0"><circle cx="416" cy="2462.3" r="5.3"/></g>
<g id="n109_1"><circle cx="416" cy="2482.6" r="5.3"/></g>
<g id="n109_2"><circle cx="416" cy="2502.8" r="5.3"/></g>
<g id="n109_3"><circle cx="416" cy="2523.1" r="5.3"/></g>
<g id="n110_0"><circle cx="416" cy="2543.4" r="5.3"/></g>
<g id="n110_1"><circle cx="416" cy="2563.6" r="5.3"/></g>
<g id="n111_0"><circle cx="448.3" cy="2543.4" r="5.3"/></g>
<g id="n111_1"><circle cx="448.3" cy="2563.6" r="5.3"/></g>
<g id="n112_0"><circle cx="399.3" cy="2583.9" r="5.3"/></g>
<g id="n112_1"><circle cx="399.3" cy="2604.2" r="5.3"/></g>
<g id="n113_0"><circle cx="431.7" cy="2583.9" r="5.3"/></g>
<g id="n113_1"><circle cx="431.7" cy="2604.2" r="5.3"/></g>
<g id="n113_2"><circle cx="431.7" cy="2624.5" r="5.3"/></g>
<g id="n113_3"><circle cx="431.7" cy="2644.7" r="5.3"/></g>
<g id="n114_0"><circle cx="463.7" cy="2583.9" r="5.3"/></g>
<g id="n114_1"><circle cx="463.7" cy="2604.2" r="5.3"/></g>
<g id="n115_0"><circle cx="367" cy="2624.5" r="5.3"/></g>
<g id="n115_1"><circle cx="367" cy="2644.7" r="5.3"/></g>
<g id="n116_0"><circle cx="399.3" cy="2624.5" r="5.3"/></g>
<g id="n116_1"><circle cx="399.3" cy="2644.7" r="5.3"/></g>
<g id="n117_0"><circle cx="350" cy="2665" r="5.3"/></g>
<g id="n117_1"><circle cx="350" cy="2685.2" r="5.3"/></g>
<g id="n118_0"><circle cx="382.7" cy="2665" r="5.3"/></g>
<g id="n118_1"><circle cx="382.7" cy="2685.2" r="5.3"/></g>
<g id="n119_0"><circle cx="102.7" cy="1570.6" r="5.3"/></g>
<g id="n119_1"><circle cx="87" cy="1590.8" r="5.3"/></g>
<g id="n120_0"><circle cx="143.7" cy="1570.6" r="5.3"/></g>
<g id="n120_1"><circle cx="143.7" cy="1590.8" r="5.3"/></g>
<g id="n121_0"><circle cx="55" cy="1611.1" r="5.3"/></g>
<g id="n121_1"><circle cx="55" cy="1631.4" r="5.3"/></g>
<g id="n121_2"><circle cx="55" cy="1651.6" r="5.3"/></g>
<g id="n121_3"><circle cx="55" cy="1671.9" r="5.3"/></g>
<g id="n121_4"><circle cx="55" cy="1692.2" r="5.3"/></g>
<g id="n121_5"><circle cx="55" cy="1712.4" r="5.3"/></g>
<g id="n121_6"><circle cx="55" cy="1732.7" r="5.3"/></g>
<g id="n121_7"><circle cx="55" cy="1753" r="5.3"/></g>
<g id="n121_8"><circle cx="55" cy="1773.2" r="5.3"/></g>
<g id="n121_9"><circle cx="55" cy="1793.5" r="5.3"/></g>
<g id="n121_10"><circle cx="55" cy="1813.8" r="5.3"/></g>
<g id="n121_11"><circle cx="55" cy="1834" r="5.3"/></g>
<g id="n121_12"><circle cx="55" cy="1854.3" r="5.3"/></g>
<g id="n121_13"><circle cx="55" cy="1874.6" r="5.3"/></g>
<g id="n121_14"><circle cx="55" cy="1894.8" r="5.3"/></g>
<g id="n121_15"><circle cx="55" cy="1915.1" r="5.3"/></g>
<g id="n122_0"><circle cx="87" cy="1611.1" r="5.3"/></g>
<g id="n122_1"><circle cx="87" cy="1631.4" r="5.3"/></g>
<g id="n122_2"><circle cx="87" cy="1651.6" r="5.3"/></g>
<g id="n122_3"><circle cx="87" cy="1671.9" r="5.3"/></g>
<g id="n123_0"><circle cx="119.3" cy="1611.1" r="5.3"/></g>
<g id="n123_1"><circle cx="119.3" cy="1631.4" r="5.3"/></g>
<g id="n124_0"><circle cx="151.7" cy="1611.1" r="5.3"/></g>
<g id="n124_1"><circle cx="151.7" cy="1631.4" r="5.3"/></g>
<g id="n125_0"><circle cx="119.3" cy="1651.6" r="5.3"/></g>
<g id="n125_1"><circle cx="119.3" cy="1671.9" r="5.3"/></g>
<g id="n125_2"><circle cx="151.7" cy="1692.2" r="5.3"/></g>
<g id="n125_3"><circle cx="151.7" cy="1712.4" r="5.3"/></g>
<g id="n126_0"><circle cx="151.7" cy="1651.6" r="5.3"/></g>
<g id="n126_1"><circle cx="151.7" cy="1671.9" r="5.3"/></g>
<g id="n127_0"><circle cx="87" cy="1692.2" r="5.3"/></g>
<g id="n127_1"><circle cx="87" cy="1712.4" r="5.3"/></g>
<g id="n128_0"><circle cx="119.3" cy="1692.2" r="5.3"/></g>
<g id="n128_1"><circle cx="119.3" cy="1712.4" r="5.3"/></g>
<g id="n129_0"><circle cx="87" cy="1732.7" r="5.3"/></g>
<g id="n129_1"><circle cx="87" cy="1753" r="5.3"/></g>
<g id="n130_0"><circle cx="119.3" cy="1732.7" r="5.3"/></g>
<g id="n130_1"><circle cx="119.3" cy="1753" r="5.3"/></g>
<g id="n130_2"><circle cx="119.3" cy="1773.2" r="5.3"/></g>
<g id="n130_3"><circle cx="119.3" cy="1793.5" r="5.3"/></g>
<g id="n131_0"><circle cx="39.3" cy="1935.4" r="5.3"/></g>
<g id="n131_1"><circle cx="39.3" cy="1955.6" r="5.3"/></g>
<g id="n131_2"><circle cx="39.3" cy="1975.9" r="5.3"/></g>
<g id="n131_3"><circle cx="39.3" cy="1996.2" r="5.3"/></g>
<g id="n132_0"><circle cx="71.3" cy="1935.4" r="5.3"/></g>
<g id="n132_1"><circle cx="71.3" cy="1955.6" r="5.3"/></g>
<g id="n132_2"><circle cx="71.3" cy="1975.9" r="5.3"/></g>
<g id="n132_3"><circle cx="71.3" cy="1996.2" r="5.3"/></g>
<g id="n133_0"><circle cx="71.3" cy="2016.4" r="5.3"/></g>
<g id="n133_1"><circle cx="71.3" cy="2036.7" r="5.3"/></g>
<g id="n134_0"><circle cx="103.7" cy="2016.4" r="5.3"/></g>
<g id="n134_1"><circle cx="103.7" cy="2036.7" r="5.3"/></g>
<g id="n135_0"><circle cx="63.7" cy="2057" r="5.3"/></g>
<g id="n135_1"><circle cx="63.7" cy="2077.2" r="5.3"/></g>
<g id="n136_0"><circle cx="96" cy="2057" r="5.3"/></g>
<g id="n136_1"><circle cx="96" cy="2077.2" r="5.3"/></g>
<g id="n137_0"><circle cx="31.3" cy="2097.5" r="5.3"/></g>
<g id="n137_1"><circle cx="31.3" cy="2117.8" r="5.3"/></g>
<g id="n137_2"><circle cx="31.3" cy="2138" r="5.3"/></g>
<g id="n137_3"><circle cx="31.3" cy="2158.3" r="5.3"/></g>
<g id="n138_0"><circle cx="63.7" cy="2097.5" r="5.3"/></g>
<g id="n138_1"><circle cx="63.7" cy="2117.8" r="5.3"/></g>
<g id="n138_2"><circle cx="63.7" cy="2138" r="5.3"/></g>
<g id="n138_3"><circle cx="63.7" cy="2158.3" r="5.3"/></g>
<g id="n139_0"><circle cx="96" cy="2097.5" r="5.3"/></g>
<g id="n139_1"><circle cx="96" cy="2117.8" r="5.3"/></g>
<g id="n139_2"><circle cx="96" cy="2138" r="5.3"/></g>
<g id="n139_3"><circle cx="96" cy="2158.3" r="5.3"/></g>
<g id="n140_0"><circle cx="128.3" cy="2097.5" r="5.3"/></g>
<g id="n140_1"><circle cx="128.3" cy="2117.8" r="5.3"/></g>
<g id="n140_2"><circle cx="128.3" cy="2138" r="5.3"/></g>
<g id="n140_3"><circle cx="128.3" cy="2158.3" r="5.3"/></g>
<g id="n141_0"><circle cx="106.7" cy="2178.6" r="5.3"/></g>
<g id="n141_1"><circle cx="106.7" cy="2198.8" r="5.3"/></g>
<g id="n142_0"><circle cx="146.7" cy="2178.6" r="5.3"/></g>
<g id="n142_1"><circle cx="154" cy="2198.8" r="5.3"/></g>
<g id="n143_0"><circle cx="74.3" cy="2219.1" r="5.3"/></g>
<g id="n143_1"><circle cx="74.3" cy="2239.4" r="5.3"/></g>
<g id="n144_0"><circle cx="106.7" cy="2219.1" r="5.3"/></g>
<g id="n144_1"><circle cx="106.7" cy="2239.4" r="5.3"/></g>
<g id="n144_2"><circle cx="106.7" cy="2259.6" r="5.3"/></g>
<g id="n144_3"><circle cx="106.7" cy="2279.9" r="5.3"/></g>
<g id="n144_4"><circle cx="106.7" cy="2300.2" r="5.3"/></g>
<g id="n144_5"><circle cx="106.7" cy="2320.4" r="5.3"/></g>
<g id="n145_0"><circle cx="41.7" cy="2259.6" r="5.3"/></g>
<g id="n145_1"><circle cx="41.7" cy="2279.9" r="5.3"/></g>
<g id="n146_0"><circle cx="74.3" cy="2259.6" r="5.3"/></g>
<g id="n146_1"><circle cx="74.3" cy="2279.9" r="5.3"/></g>
<g id="n146_2"><circle cx="74.3" cy="2300.2" r="5.3"/></g>
<g id="n146_3"><circle cx="74.3" cy="2320.4" r="5.3"/></g>
<g id="n146_4"><circle cx="74.3" cy="2340.7" r="5.3"/></g>
<g id="n146_5"><circle cx="74.3" cy="2361" r="5.3"/></g>
<g id="n147_0"><circle cx="10" cy="2300.2" r="5.3"/></g>
<g id="n147_1"><circle cx="10" cy="2320.4" r="5.3"/></g>
<g id="n147_2"><circle cx="10" cy="2340.7" r="5.3"/></g>
<g id="n147_3"><circle cx="10" cy="2361" r="5.3"/></g>
<g id="n147_4"><circle cx="10" cy="2381.2" r="5.3"/></g>
<g id="n147_5"><circle cx="10" cy="2401.5" r="5.3"/></g>
<g id="n148_0"><circle cx="41.7" cy="2300.2" r="5.3"/></g>
<g id="n148_1"><circle cx="41.7" cy="2320.4" r="5.3"/></g>
<g id="n149_0"><circle cx="106.7" cy="2340.7" r="5.3"/></g>
<g id="n149_1"><circle cx="106.7" cy="2361" r="5.3"/></g>
<g id="n150_0"><circle cx="139" cy="2340.7" r="5.3"/></g>
<g id="n150_1"><circle cx="139" cy="2361" r="5.3"/></g>
<g id="n150_2"><circle cx="139" cy="2381.2" r="5.3"/></g>
<g id="n150_3"><circle cx="139" cy="2401.5" r="5.3"/></g>
<g id="n151_0"><circle cx="154" cy="2219.1" r="5.3"/></g>
<g id="n151_1"><circle cx="154" cy="2239.4" r="5.3"/></g>
<g id="n151_2"><circle cx="155.3" cy="2259.6" r="5.3"/></g>
<g id="n151_3"><circle cx="158" cy="2279.9" r="5.3"/></g>
<g id="n151_4"><circle cx="159.3" cy="2300.2" r="5.3"/></g>
<g id="n151_5"><circle cx="167" cy="2320.4" r="5.3"/></g>
<g id="n151_6"><circle cx="171" cy="2340.7" r="5.3"/></g>
<g id="n151_7"><circle cx="171" cy="2361" r="5.3"/></g>
<g id="n152_0"><circle cx="186.7" cy="2219.1" r="5.3"/></g>
<g id="n152_1"><circle cx="186.7" cy="2239.4" r="5.3"/></g>
<g id="n153_0"><circle cx="139" cy="2421.8" r="5.3"/></g>
<g id="n153_1"><circle cx="139" cy="2442" r="5.3"/></g>
<g id="n154_0"><circle cx="171" cy="2421.8" r="5.3"/></g>
<g id="n154_1"><circle cx="171" cy="2442" r="5.3"/></g>
<g id="n154_2"><circle cx="171" cy="2462.3" r="5.3"/></g>
<g id="n154_3"><circle cx="171" cy="2482.6" r="5.3"/></g>
<g id="n155_0"><circle cx="106.7" cy="2462.3" r="5.3"/></g>
<g id="n155_1"><circle cx="106.7" cy="2482.6" r="5.3"/></g>
<g id="n155_2"><circle cx="106.7" cy="2502.8" r="5.3"/></g>
<g id="n155_3"><circle cx="106.7" cy="2523.1" r="5.3"/></g>
<g id="n155_4"><circle cx="106.7" cy="2543.4" r="5.3"/></g>
<g id="n155_5"><circle cx="106.7" cy="2563.6" r="5.3"/></g>
<g id="n155_6"><circle cx="106.7" cy="2583.9" r="5.3"/></g>
<g id="n155_7"><circle cx="106.7" cy="2604.2" r="5.3"/></g>
<g id="n155_8"><circle cx="106.7" cy="2624.5" r="5.3"/></g>
<g id="n155_9"><circle cx="106.7" cy="2644.7" r="5.3"/></g>
<g id="n156_0"><circle cx="139" cy="2462.3" r="5.3"/></g>
<g id="n156_1"><circle cx="139" cy="2482.6" r="5.3"/></g>
<g id="n156_2"><circle cx="139" cy="2502.8" r="5.3"/></g>
<g id="n156_3"><circle cx="139" cy="2523.1" r="5.3"/></g>
<g id="n157_0"><circle cx="139" cy="2543.4" r="5.3"/></g>
<g id="n157_1"><circle cx="139" cy="2563.6" r="5.3"/></g>
<g id="n157_2"><circle cx="139" cy="2583.9" r="5.3"/></g>
<g id="n157_3"><circle cx="139" cy="2604.2" r="5.3"/></g>
<g id="n157_4"><circle cx="139" cy="2624.5" r="5.3"/></g>
<g id="n157_5"><circle cx="139" cy="2644.7" r="5.3"/></g>
<g id="n157_6"><circle cx="139" cy="2665" r="5.3"/></g>
<g id="n157_7"><circle cx="139" cy="2685.2" r="5.3"/></g>
<g id="n158_0"><circle cx="186.7" cy="2543.4" r="5.3"/></g>
<g id="n158_1"><circle cx="194.3" cy="2563.6" r="5.3"/></g>
<g id="n159_0"><circle cx="194.3" cy="2583.9" r="5.3"/></g>
<g id="n159_1"><circle cx="194.3" cy="2604.2" r="5.3"/></g>
<g id="n160_0"><circle cx="231.7" cy="2583.9" r="5.3"/></g>
<g id="n160_1"><circle cx="235.7" cy="2604.2" r="5.3"/></g>
<g id="n161_0"><circle cx="171" cy="2624.5" r="5.3"/></g>
<g id="n161_1"><circle cx="171" cy="2644.7" r="5.3"/></g>
<g id="n161_2"><circle cx="171" cy="2665" r="5.3"/></g>
<g id="n161_3"><circle cx="171" cy="2685.2" r="5.3"/></g>
<g id="n162_0"><circle cx="203.3" cy="2624.5" r="5.3"/></g>
<g id="n162_1"><circle cx="203.3" cy="2644.7" r="5.3"/></g>
<g id="n162_2"><circle cx="203.3" cy="2665" r="5.3"/></g>
<g id="n162_3"><circle cx="203.3" cy="2685.2" r="5.3"/></g>
<g id="n163_0"><circle cx="235.7" cy="2624.5" r="5.3"/></g>
<g id="n163_1"><circle cx="235.7" cy="2644.7" r="5.3"/></g>
<g id="n163_2"><circle cx="235.7" cy="2665" r="5.3"/></g>
<g id="n163_3"><circle cx="235.7" cy="2685.2" r="5.3"/></g>
<g id="n164_0"><circle cx="267.7" cy="2624.5" r="5.3"/></g>
<g id="n164_1"><circle cx="267.7" cy="2644.7" r="5.3"/></g>
<g id="n165_0"><circle cx="154" cy="2705.5" r="5.3"/></g>
<g id="n165_1"><circle cx="154" cy="2725.8" r="5.3"/></g>
<g id="n165_2"><circle cx="154" cy="2746" r="5.3"/></g>
<g id="n165_3"><circle cx="154" cy="2766.3" r="5.3"/></g>
<g id="n166_0"><circle cx="186.7" cy="2705.5" r="5.3"/></g>
<g id="n166_1"><circle cx="186.7" cy="2725.8" r="5.3"/></g>
<g id="n167_0"><circle cx="186.7" cy="2746" r="5.3"/></g>
<g id="n167_1"><circle cx="186.7" cy="2766.3" r="5.3"/></g>
<g id="n168_0"><circle cx="218.7" cy="2746" r="5.3"/></g>
<g id="n168_1"><circle cx="218.7" cy="2766.3" r="5.3"/></g>
<g id="n168_2"><circle cx="218.7" cy="2786.6" r="5.3"/></g>
<g id="n168_3"><circle cx="218.7" cy="2806.8" r="5.3"/></g>
<g id="n169_0"><circle cx="203.3" cy="2827.1" r="5.3"/></g>
<g id="n169_1"><circle cx="203.3" cy="2847.4" r="5.3"/></g>
<g id="n170_0"><circle cx="235.7" cy="2827.1" r="5.3"/></g>
<g id="n170_1"><circle cx="235.7" cy="2847.4" r="5.3"/></g>
<g id="n171_0"><circle cx="218.7" cy="2867.6" r="5.3"/></g>
<g id="n171_1"><circle cx="218.7" cy="2887.9" r="5.3"/></g>
<g id="n172_0"><circle cx="251" cy="2867.6" r="5.3"/></g>
<g id="n172_1"><circle cx="251" cy="2887.9" r="5.3"/></g>
</g>
</svg>
